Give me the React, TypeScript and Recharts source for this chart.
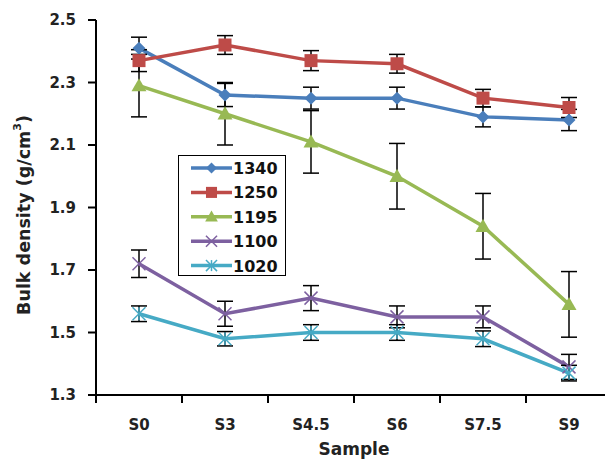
import React from 'react';
import { LineChart, Line, XAxis, YAxis, ErrorBar, Legend } from 'recharts';

const categories = ['S0', 'S3', 'S4.5', 'S6', 'S7.5', 'S9'];
const seriesNames = ['1340', '1250', '1195', '1100', '1020'];
const s1340 = [2.41, 2.26, 2.25, 2.25, 2.19, 2.18];
const e1340 = [0.035, 0.037, 0.035, 0.035, 0.032, 0.034];
const s1250 = [2.37, 2.42, 2.37, 2.36, 2.25, 2.22];
const e1250 = [0.035, 0.03, 0.032, 0.03, 0.028, 0.032];
const s1195 = [2.29, 2.2, 2.11, 2.0, 1.84, 1.59];
const e1195 = [0.1, 0.1, 0.1, 0.105, 0.105, 0.105];
const s1100 = [1.72, 1.56, 1.61, 1.55, 1.55, 1.39];
const e1100 = [0.044, 0.04, 0.04, 0.035, 0.035, 0.04];
const s1020 = [1.56, 1.48, 1.5, 1.5, 1.48, 1.37];
const e1020 = [0.025, 0.023, 0.025, 0.025, 0.025, 0.025];
const yTicks = [1.3, 1.5, 1.7, 1.9, 2.1, 2.3, 2.5];

const colors = ['#4A7EBB', '#BE4B48', '#98B954', '#7D60A0', '#46AAC5'];
const shapes = ['diamond', 'square', 'triangle', 'x', 'star'];

const values = [s1340, s1250, s1195, s1100, s1020];
const errors = [e1340, e1250, e1195, e1100, e1020];

const data = categories.map((c, i) => {
  const row: any = { x: i + 0.5, cat: c };
  seriesNames.forEach((n, k) => {
    row['v' + n] = values[k][i];
    row['e' + n] = errors[k][i];
  });
  return row;
});

const xTicks: number[] = [];
for (let i = 0; i <= categories.length * 2; i++) xTicks.push(i / 2);

const FONT = '"DejaVu Sans", sans-serif';

function Marker({ shape, cx, cy, color, s = 1 }: any) {
  if (cx == null || cy == null) return null;
  if (shape === 'diamond') {
    const r = 6.5 * s;
    return <polygon points={`${cx},${cy - r} ${cx + r},${cy} ${cx},${cy + r} ${cx - r},${cy}`} fill={color} />;
  }
  if (shape === 'square') {
    const r = 6.5 * s;
    return <rect x={cx - r} y={cy - r} width={2 * r} height={2 * r} fill={color} />;
  }
  if (shape === 'triangle') {
    const r = 7.5 * s;
    return <polygon points={`${cx},${cy - r} ${cx + r},${cy + r * 0.75} ${cx - r},${cy + r * 0.75}`} fill={color} />;
  }
  const r = 6.5 * s;
  return (
    <g stroke={color} strokeWidth={1.5}>
      <line x1={cx - r} y1={cy - r} x2={cx + r} y2={cy + r} />
      <line x1={cx - r} y1={cy + r} x2={cx + r} y2={cy - r} />
      {shape === 'star' && <line x1={cx} y1={cy - r} x2={cx} y2={cy + r} />}
    </g>
  );
}

function XTick(props: any) {
  const { x, y, payload } = props;
  const v = payload.value;
  if (Number.isInteger(v)) {
    return <line x1={x} y1={y - 8} x2={x} y2={y} stroke="#000" strokeWidth={2} />;
  }
  const idx = Math.floor(v);
  return (
    <text x={x} y={y + 27} textAnchor="middle" fontFamily={FONT} fontWeight="bold" fontSize={15} fill="#222">
      {categories[idx]}
    </text>
  );
}

function LegendBox() {
  return (
    <div
      style={{
        width: 108,
        height: 121,
        border: '1.5px solid #000',
        background: '#fff',
        boxSizing: 'border-box',
        position: 'relative',
      }}
    >
      <svg width={108} height={121} style={{ position: 'absolute', left: 0, top: 0 }}>
        {seriesNames.map((n, k) => {
          const cy = 12 + k * 24.4;
          return (
            <g key={n}>
              <line x1={12} y1={cy} x2={53} y2={cy} stroke={colors[k]} strokeWidth={3.5} />
              <Marker shape={shapes[k]} cx={32.5} cy={cy} color={colors[k]} s={0.85} />
              <text x={54} y={cy + 6} fontFamily={FONT} fontWeight="bold" fontSize={16} fill="#111">
                {n}
              </text>
            </g>
          );
        })}
      </svg>
    </div>
  );
}

export default function App() {
  return (
    <div style={{ position: 'absolute', left: 0, top: 0, width: 605, height: 459, overflow: 'hidden', background: '#fff' }}>
      <LineChart width={640} height={459} data={data} margin={{ top: 20, right: 28, bottom: 24, left: 0 }}>
        <XAxis
          dataKey="x"
          type="number"
          domain={[0, categories.length]}
          ticks={xTicks}
          interval={0}
          tickLine={false}
          tickSize={8}
          tickMargin={0}
          height={40}
          axisLine={{ stroke: '#000', strokeWidth: 2 }}
          tick={<XTick />}
          label={{
            content: () => (
              <text x={354} y={455} textAnchor="middle" fontFamily={FONT} fontWeight="bold" fontSize={17} fill="#222">
                Sample
              </text>
            ),
          }}
        />
        <YAxis
          type="number"
          domain={[1.3, 2.5]}
          ticks={yTicks}
          interval={0}
          width={96}
          tickSize={8}
          tickMargin={12}
          tickFormatter={(v: number) => v.toFixed(1)}
          tick={{ fontFamily: FONT, fontWeight: 'bold', fontSize: 15, fill: '#222' }}
          axisLine={{ stroke: '#000', strokeWidth: 2 }}
          tickLine={{ stroke: '#000', strokeWidth: 2 }}
          label={{
            content: () => (
              <text
                x={24}
                y={215}
                transform="rotate(-90 24 215)"
                textAnchor="middle"
                dominantBaseline="central"
                fontFamily={FONT}
                fontWeight="bold"
                fontSize={17.5}
                fill="#222"
              >
                Bulk density (g/cm
                <tspan dy={-7} fontSize={11}>3</tspan>
                <tspan dy={7}>)</tspan>
              </text>
            ),
          }}
        />
        {seriesNames.map((n, k) => (
          <Line
            key={n}
            name={n}
            dataKey={'v' + n}
            stroke={colors[k]}
            strokeWidth={3.5}
            isAnimationActive={false}
            dot={(p: any) => <Marker key={`d-${n}-${p.index}`} shape={shapes[k]} cx={p.cx} cy={p.cy} color={colors[k]} />}
            activeDot={false}
          >
            <ErrorBar dataKey={'e' + n} direction="y" width={8} stroke="#000" strokeWidth={1.5} isAnimationActive={false} />
          </Line>
        ))}
        <Legend
          layout="vertical"
          align="center"
          verticalAlign="middle"
          content={() => <LegendBox />}
          wrapperStyle={{ position: 'absolute', left: 178, top: 155, width: 108, height: 121 }}
        />
      </LineChart>
    </div>
  );
}
